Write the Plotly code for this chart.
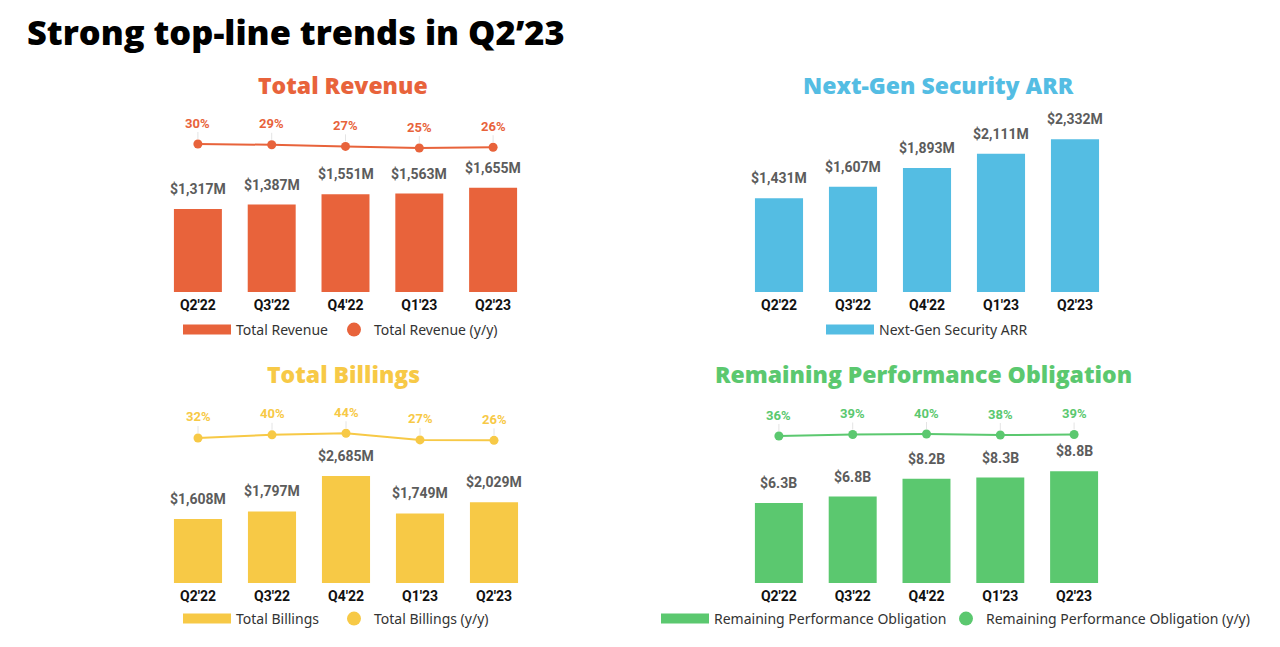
import plotly.graph_objects as go

# ---------------- data ----------------
quarters = ["Q2'22", "Q3'22", "Q4'22", "Q1'23", "Q2'23"]
revenue = [1317, 1387, 1551, 1563, 1655]          # $M
revenue_yy = [30, 29, 27, 25, 26]                  # %
ngs_arr = [1431, 1607, 1893, 2111, 2332]           # $M
billings = [1608, 1797, 2685, 1749, 2029]          # $M
billings_yy = [32, 40, 44, 27, 26]                 # %
rpo = [6.3, 6.8, 8.2, 8.3, 8.8]                    # $B
rpo_yy = [36, 39, 40, 38, 39]                      # %

ORANGE = "#E8633B"
BLUE = "#54BDE3"
YELLOW = "#F7C946"
GREEN = "#5BC86F"

# page is 1280x647; browser body margin of 8px shifts the figure
OFF = 8
W, H = 1280 - OFF, 647 - OFF


def px(a):
    return (a - OFF) / W


def py(a):
    return 1 - (a - OFF) / H


def xd(a, b):
    return [px(a), px(b)]


def yd(top, bottom):
    return [py(bottom), py(top)]


fig = go.Figure()

panels = [
    dict(color=ORANGE, bars=revenue, yy=revenue_yy,
         fmt=lambda v: f"${v:,}M", xa="x", ya="y", la="y2",
         lb="legend", ll="legend2",
         bar_name="Total Revenue", yy_name="Total Revenue (y/y)"),
    dict(color=BLUE, bars=ngs_arr, yy=None,
         fmt=lambda v: f"${v:,}M", xa="x2", ya="y3", la=None,
         lb="legend3", ll=None,
         bar_name="Next-Gen Security ARR", yy_name=None),
    dict(color=YELLOW, bars=billings, yy=billings_yy,
         fmt=lambda v: f"${v:,}M", xa="x3", ya="y4", la="y5",
         lb="legend4", ll="legend5",
         bar_name="Total Billings", yy_name="Total Billings (y/y)"),
    dict(color=GREEN, bars=rpo, yy=rpo_yy,
         fmt=lambda v: f"${v}B", xa="x4", ya="y6", la="y7",
         lb="legend6", ll="legend7",
         bar_name="Remaining Performance Obligation",
         yy_name="Remaining Performance Obligation (y/y)"),
]

annotations = []
for i, p in enumerate(panels):
    g = f"g{i}"
    fig.add_trace(go.Bar(
        x=quarters, y=p["bars"], marker=dict(color=p["color"], line=dict(width=0)),
        xaxis=p["xa"], yaxis=p["ya"], name=p["bar_name"], showlegend=False,
        legendgroup=g + "b"))
    # legend swatch for bars (legend-only entry)
    fig.add_trace(go.Scatter(
        x=[None], y=[None], mode="lines", line=dict(color=p["color"], width=10),
        xaxis=p["xa"], yaxis=p["ya"], name=p["bar_name"], legend=p["lb"],
        legendgroup=g + "b", showlegend=True))
    for q, v in zip(quarters, p["bars"]):
        annotations.append(dict(
            x=q, y=v, xref=p["xa"], yref=p["ya"], text=p["fmt"](v), showarrow=False,
            yanchor="bottom", yshift=10,
            font=dict(family="Roboto", size=14, color="#5C5C5C", weight="bold")))
    if p["yy"] is not None:
        fig.add_trace(go.Scatter(
            x=quarters, y=p["yy"], mode="lines+markers",
            line=dict(color=p["color"], width=2),
            marker=dict(color=p["color"], size=9),
            xaxis=p["xa"], yaxis=p["la"], name=p["yy_name"], showlegend=False,
            legendgroup=g + "l", cliponaxis=False))
        fig.add_trace(go.Scatter(
            x=[None], y=[None], mode="markers",
            marker=dict(color=p["color"], size=14),
            xaxis=p["xa"], yaxis=p["la"], name=p["yy_name"], legend=p["ll"],
            legendgroup=g + "l", showlegend=True))
        for q, v in zip(quarters, p["yy"]):
            annotations.append(dict(
                x=q, y=v, xref=p["xa"], yref=p["la"], text=f"{v}%", showarrow=True,
                arrowhead=0, arrowwidth=1, arrowcolor="#E4E4E4", ax=0, ay=-21,
                standoff=5,
                font=dict(family="Roboto", size=13, color=p["color"], weight="bold")))

# panel titles
titles = [
    ("Total Revenue", ORANGE, 343, 85),
    ("Next-Gen Security ARR", BLUE, 938, 85),
    ("Total Billings", YELLOW, 343, 374),
    ("Remaining Performance Obligation", GREEN, 924, 374),
]
for t, c, cx, cy in titles:
    annotations.append(dict(
        x=px(cx), y=py(cy), xref="paper", yref="paper", text=t, showarrow=False,
        xanchor="center", yanchor="middle",
        font=dict(family="Open Sans", size=23, color=c, weight=800)))

annotations.append(dict(
    x=px(27), y=py(32), xref="paper", yref="paper",
    text="Strong top-line trends in Q2’23", showarrow=False,
    xanchor="left", yanchor="middle", xshift=-2,
    font=dict(family="Open Sans", size=34.4, color="#000000", weight=800)))

xaxis_common = dict(type="category", showgrid=False, zeroline=False, showline=False,
                    ticks="", ticklabelstandoff=3,
                    tickfont=dict(family="Roboto", size=14, color="#111111", weight="bold"),
                    fixedrange=True)
yaxis_common = dict(visible=False, showgrid=False, zeroline=False, fixedrange=True)


def legend_at(left_px, cy_px, itemwidth):
    return dict(orientation="h", xanchor="left", yanchor="middle",
                x=px(left_px), y=py(cy_px),
                bgcolor="rgba(0,0,0,0)", itemwidth=itemwidth,
                font=dict(family="Noto Sans", size=14, color="#333333"))


fig.update_layout(
    width=W, height=H,
    margin=dict(l=0, r=0, t=0, b=0),
    paper_bgcolor="white", plot_bgcolor="white",
    bargap=0.35, showlegend=True,
    xaxis=dict(domain=xd(161, 530), anchor="y", **xaxis_common),
    xaxis2=dict(domain=xd(742, 1112), anchor="y3", **xaxis_common),
    xaxis3=dict(domain=xd(161, 531), anchor="y4", **xaxis_common),
    xaxis4=dict(domain=xd(742, 1111), anchor="y6", **xaxis_common),
    yaxis=dict(domain=yd(130, 292), range=[0, 2571], anchor="x", **yaxis_common),
    yaxis2=dict(domain=yd(120, 168), range=[0, 60], anchor="x", **yaxis_common),
    yaxis3=dict(domain=yd(130, 292), range=[0, 2473], anchor="x2", **yaxis_common),
    yaxis4=dict(domain=yd(420, 583), range=[0, 4095], anchor="x3", **yaxis_common),
    yaxis5=dict(domain=yd(427, 450.5), range=[0, 60], anchor="x3", **yaxis_common),
    yaxis6=dict(domain=yd(420, 583), range=[0, 12.83], anchor="x4", **yaxis_common),
    yaxis7=dict(domain=yd(424, 454), range=[0, 60], anchor="x4", **yaxis_common),
    legend=legend_at(178, 330, 48),
    legend2=legend_at(334, 330, 30),
    legend3=legend_at(821, 330, 48),
    legend4=legend_at(178, 619, 48),
    legend5=legend_at(334, 619, 30),
    legend6=legend_at(656, 619, 48),
    legend7=legend_at(946, 619, 30),
    annotations=annotations,
)

fig.write_html("out.html", config={"displayModeBar": False})
